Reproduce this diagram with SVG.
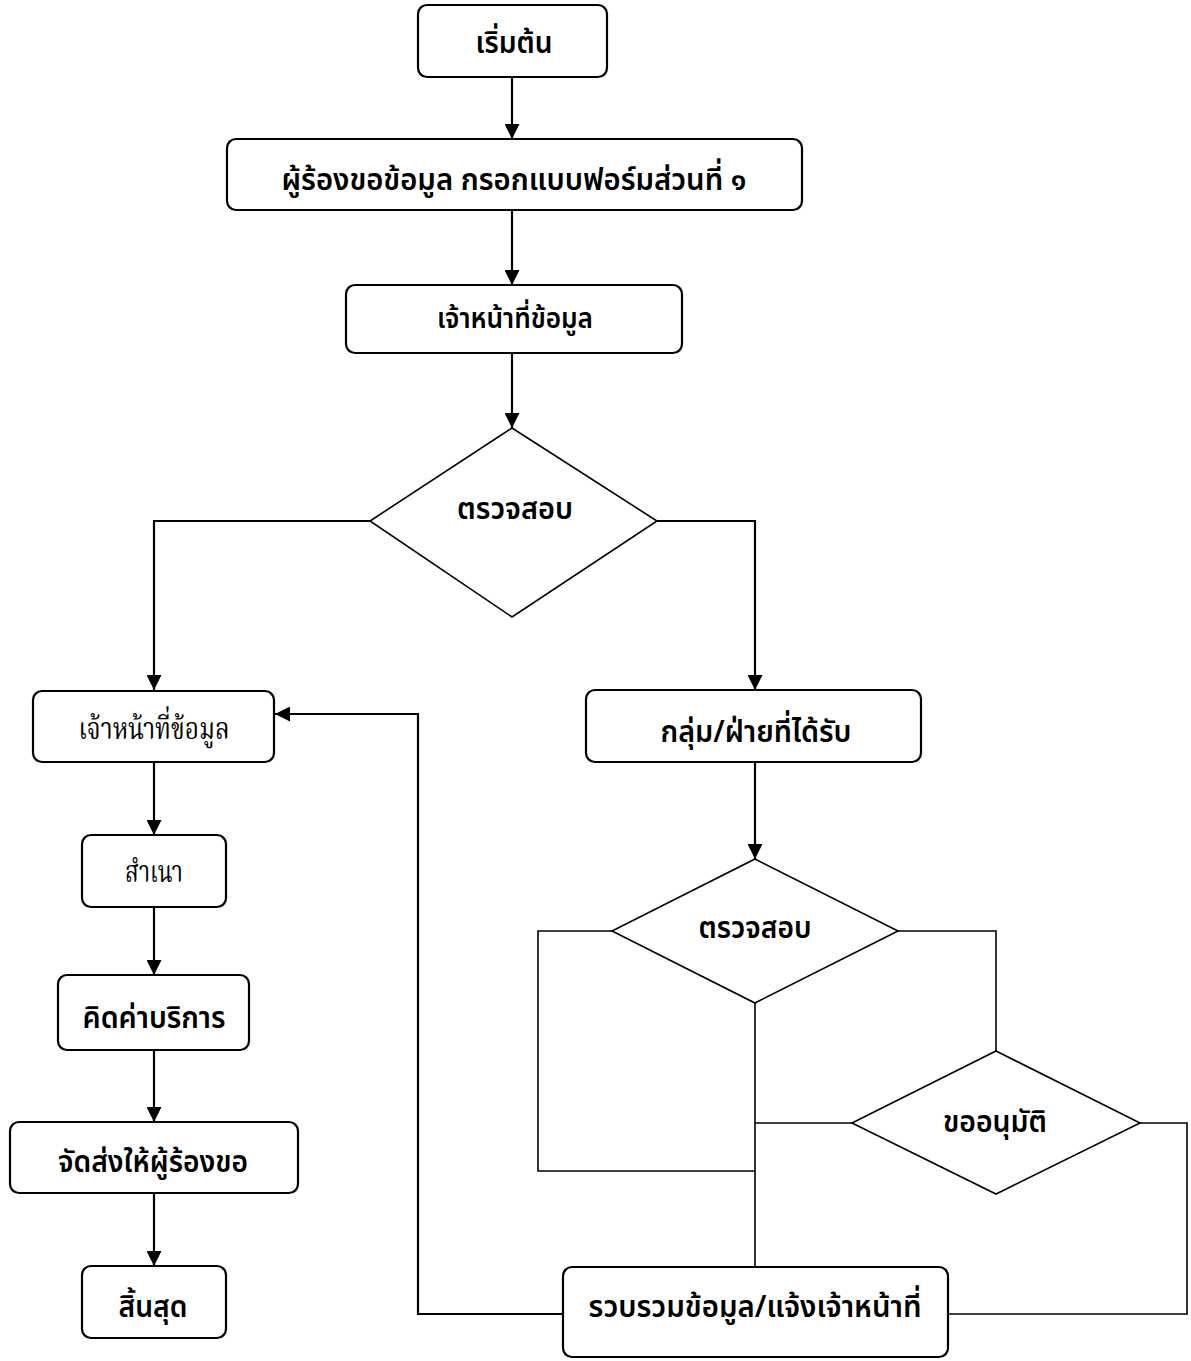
<svg xmlns="http://www.w3.org/2000/svg" width="1191" height="1361" viewBox="0 0 1191 1361">
<defs>
<marker id="arr" markerWidth="15" markerHeight="15" refX="15" refY="7.5" orient="auto" markerUnits="userSpaceOnUse" viewBox="0 0 15 15">
<path d="M0,0 L15,7.5 L0,15 z" fill="#000"/>
</marker>
<style>
rect.n{fill:#fff;stroke:#000;stroke-width:2.2}
polygon.d{fill:#fff;stroke:#000;stroke-width:1.6}
.c{fill:none;stroke:#000;stroke-width:2.2}
.l{fill:none;stroke:#000;stroke-width:1.6}
text{font-family:"Noto Sans Thai","Noto Sans Thai UI","Tahoma","DejaVu Sans",sans-serif;text-anchor:middle;fill:#000}
.b{font-weight:600;font-size:31px}
.s{font-family:"Noto Serif Thai","Liberation Serif",serif;font-size:31px}
</style>
</defs>
<rect width="1191" height="1361" fill="#fff"/>
<g id="connectors">
<path class="c" d="M512,77 V139" marker-end="url(#arr)"/>
<path class="c" d="M512,210 V285" marker-end="url(#arr)"/>
<path class="c" d="M512,353 V428" marker-end="url(#arr)"/>
<path class="c" d="M370,521 H154 V690" marker-end="url(#arr)"/>
<path class="c" d="M657,521 H755 V690" marker-end="url(#arr)"/>
<path class="c" d="M154,762 V835" marker-end="url(#arr)"/>
<path class="c" d="M154,907 V975" marker-end="url(#arr)"/>
<path class="c" d="M154,1050 V1122" marker-end="url(#arr)"/>
<path class="c" d="M154,1193 V1266" marker-end="url(#arr)"/>
<path class="c" d="M755,762 V859" marker-end="url(#arr)"/>
<path class="l" d="M612,931 H538 V1171 H755"/>
<path class="l" d="M898,931 H996 V1051"/>
<path class="l" d="M755,1003 V1267"/>
<path class="l" d="M852,1123 H755"/>
<path class="l" d="M1140,1123 H1187 V1314 H948"/>
<path class="c" d="M563,1314 H418 V714 H275" marker-end="url(#arr)"/>
</g>
<g id="start"><rect class="n" x="418" y="5" width="189" height="72" rx="9"/><text class="b" x="514" y="53" textLength="77" lengthAdjust="spacingAndGlyphs">เริ่มต้น</text></g>
<g id="request"><rect class="n" x="227" y="139" width="575" height="71" rx="9"/><text class="b" x="514" y="190" textLength="465" lengthAdjust="spacingAndGlyphs">ผู้ร้องขอข้อมูล กรอกแบบฟอร์มส่วนที่ ๑</text></g>
<g id="officer1"><rect class="n" x="346" y="285" width="336" height="68" rx="9"/><text class="b" x="515" y="328" style="font-size:28px" textLength="156" lengthAdjust="spacingAndGlyphs">เจ้าหน้าที่ข้อมูล</text></g>
<g id="check1"><polygon class="d" points="512,428 657,521 512,617 370,521"/><text class="b" x="515" y="519" textLength="116" lengthAdjust="spacingAndGlyphs">ตรวจสอบ</text></g>
<g id="officer2"><rect class="n" x="33" y="691" width="241" height="71" rx="9"/><text class="s" x="154" y="739" textLength="151" lengthAdjust="spacingAndGlyphs">เจ้าหน้าที่ข้อมูล</text></g>
<g id="copy"><rect class="n" x="82" y="835" width="144" height="72" rx="9"/><text class="s" x="154" y="882" textLength="58" lengthAdjust="spacingAndGlyphs">สำเนา</text></g>
<g id="fee"><rect class="n" x="58" y="975" width="191" height="75" rx="9"/><text class="b" x="154" y="1028" textLength="143" lengthAdjust="spacingAndGlyphs">คิดค่าบริการ</text></g>
<g id="deliver"><rect class="n" x="10" y="1122" width="288" height="71" rx="9"/><text class="b" x="153" y="1172" textLength="190" lengthAdjust="spacingAndGlyphs">จัดส่งให้ผู้ร้องขอ</text></g>
<g id="end"><rect class="n" x="82" y="1266" width="144" height="72" rx="9"/><text class="b" x="153" y="1317" textLength="69" lengthAdjust="spacingAndGlyphs">สิ้นสุด</text></g>
<g id="unit"><rect class="n" x="586" y="690" width="335" height="72" rx="9"/><text class="b" x="756" y="742" textLength="191" lengthAdjust="spacingAndGlyphs">กลุ่ม/ฝ่ายที่ได้รับ</text></g>
<g id="check2"><polygon class="d" points="755,859 898,931 755,1003 612,931"/><text class="b" x="755" y="938" textLength="113" lengthAdjust="spacingAndGlyphs">ตรวจสอบ</text></g>
<g id="approve"><polygon class="d" points="996,1051 1140,1123 996,1194 852,1123"/><text class="b" x="995" y="1132" textLength="104" lengthAdjust="spacingAndGlyphs">ขออนุมัติ</text></g>
<g id="collect"><rect class="n" x="563" y="1267" width="385" height="90" rx="9"/><text class="b" x="755" y="1317" textLength="333" lengthAdjust="spacingAndGlyphs">รวบรวมข้อมูล/แจ้งเจ้าหน้าที่</text></g>
</svg>
